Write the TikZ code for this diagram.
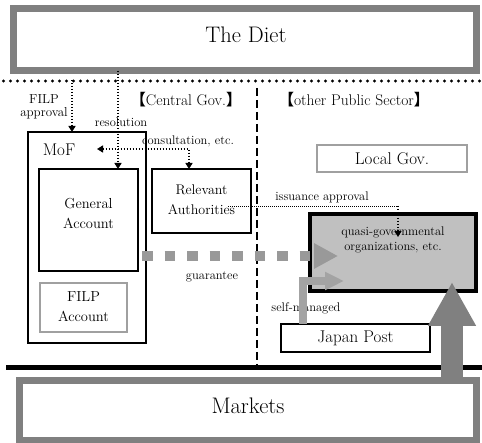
\documentclass[tikz,border=0pt]{standalone}
\usepackage{fontspec}
\newfontfamily\cjkfont{Noto Sans CJK JP}
\usetikzlibrary{arrows.meta,calc}

\definecolor{framegray}{HTML}{808080}
\definecolor{softgray}{HTML}{A0A0A0}
\definecolor{quasifill}{HTML}{C0C0C0}
\definecolor{guargray}{HTML}{999999}
\definecolor{selfgray}{HTML}{A3A3A3}

\newcommand{\lbr}{{\cjkfont\bfseries 【}}
\newcommand{\rbr}{{\cjkfont\bfseries 】}}

\begin{document}
\begin{tikzpicture}[x=1pt,y=-1pt,
  every node/.style={inner sep=0pt,outer sep=0pt},
  bigframe/.style={draw=framegray,line width=7pt,fill=white},
  blackbox/.style={draw=black,line width=1.5pt},
  softbox/.style={draw=softgray,line width=1.5pt},
  quasibox/.style={draw=black,line width=4pt,fill=quasifill},
  hugetext/.style={font=\fontsize{22.5}{26}\selectfont},
  bigtext/.style={font=\fontsize{17}{20}\selectfont},
  headtext/.style={font=\fontsize{15.5}{18}\selectfont},
  boxtext/.style={font=\fontsize{14.5}{20}\selectfont,align=center},
  smalltext/.style={font=\fontsize{12.5}{14.5}\selectfont,align=center},
  dotarrow/.style={line width=1.4pt,dash pattern=on 1.5pt off 1.5pt,
    -{Triangle[length=6pt,width=7pt]}},
  thindotted/.style={line width=0.8pt,dash pattern=on 1pt off 1pt},
  guarline/.style={draw=guargray,line width=10.5pt,
    dash pattern=on 10.5pt off 12pt,
    -{Triangle[length=24pt,width=24pt,color=guargray]}},
  selfline/.style={draw=selfgray,line width=8pt,
    -{Triangle[length=19pt,width=17pt,color=selfgray]}},
  bigline/.style={draw=framegray,line width=22pt,
    -{Triangle[length=44pt,width=45pt,color=framegray]}}
]
\useasboundingbox (0,0) rectangle (482,443);

% the Diet and the row of dots below it
\node[bigframe,minimum width=463pt,minimum height=62.5pt] (diet) at (245,39.75) {};
\node[hugetext] (dietname) at (246,35) {The Diet};
\draw[line width=3.2pt,line cap=round,dash pattern=on 0pt off 7pt] (3.5,81) -- (482,81);

% sector headings and the dividing dashed line
\node[headtext] (central) at (186,100) {\lbr Central Gov.\rbr};
\node[headtext] (other) at (354,100) {\lbr other Public Sector\rbr};
\draw[line width=1.5pt,dash pattern=on 8pt off 4pt] (257,88) -- (257,366);

% central government
\node[blackbox,minimum width=118pt,minimum height=211pt] (mof) at (87,237.5) {};
\node[bigtext] (mofname) at (59,150) {MoF};
\node[blackbox,minimum width=99pt,minimum height=102pt] (ga) at (88.5,220) {};
\node[boxtext] (gatext) at (88.5,213.5) {General\\Account};
\node[softbox,minimum width=87pt,minimum height=49pt] (fa) at (83.5,307.5) {};
\node[boxtext] (fatext) at (83.5,307) {FILP\\Account};
\node[blackbox,minimum width=99pt,minimum height=64pt] (ra) at (201.5,201) {};
\node[boxtext,font=\fontsize{14}{20}\selectfont] (ratext) at (201.5,200) {Relevant\\Authorities};

% other public sector
\node[softbox,minimum width=150pt,minimum height=27pt,bigtext] (lg) at (392,158.5) {Local Gov.};
\node[quasibox,minimum width=166pt,minimum height=77pt] (quasi) at (393,252.5) {};
\node[smalltext] (qtext) at (393,240) {quasi-governmental\\organizations, etc.};
\node[blackbox,line width=1.2pt,minimum width=149pt,minimum height=28pt,bigtext] (jp) at (355.5,338) {Japan Post};

% markets
\draw[line width=5pt] (6,367.5) -- (482,367.5);
\node[bigframe,minimum width=457pt,minimum height=60.5pt] (markets) at (248,410.75) {};
\node[hugetext] (marketsname) at (248,406) {Markets};

% labels
\node[font=\fontsize{13}{13}\selectfont,align=center] (filpappr) at (44,106.5) {FILP\\approval};
\node[smalltext] (reslabel) at (121,122) {resolution};
\node[smalltext] (conlabel) at (188,141) {consultation, etc.};
\node[smalltext] (isslabel) at (322,197) {issuance approval};
\node[smalltext] (guarlabel) at (212,277) {guarantee};
\node[smalltext] (selflabel) at (306,308) {self-managed};

% dotted control lines
\coordinate (fapt) at (72,80);
\draw[dotarrow] (fapt) -- (fapt |- mof.north);
\coordinate (respt) at (118,0);
\draw[dotarrow] (respt |- diet.south) -- (respt |- ga.north);
\coordinate (conpt) at (97,149);
\draw[dotarrow,{Triangle[length=6pt,width=7pt]}-{Triangle[length=6pt,width=7pt]}]
  (conpt) -| ($(ra.north)+(-12.5,0)$);
\coordinate (isspt) at (398,206);
\draw[thindotted] ($(ra.east |- isspt)+(-23,0)$) -- (isspt);
\draw[dotarrow] (isspt) -- ($(isspt |- qtext.center)+(0,-3)$);

% money flows
\coordinate (gstart) at ($(mof.east |- 0,256)+(-4,0)$);
\draw[guarline] (gstart) -- ($(quasi.west |- gstart)+(28,0)$);
\draw[selfline] ($(jp.north west)+(21.5,0)$) |- ($(quasi.west |- 0,281)+(34,0)$);
\coordinate (bigx) at (452,0);
\draw[bigline] (bigx |- markets.north) -- ($(bigx |- quasi.south)+(0,-9)$);
\end{tikzpicture}
\end{document}
